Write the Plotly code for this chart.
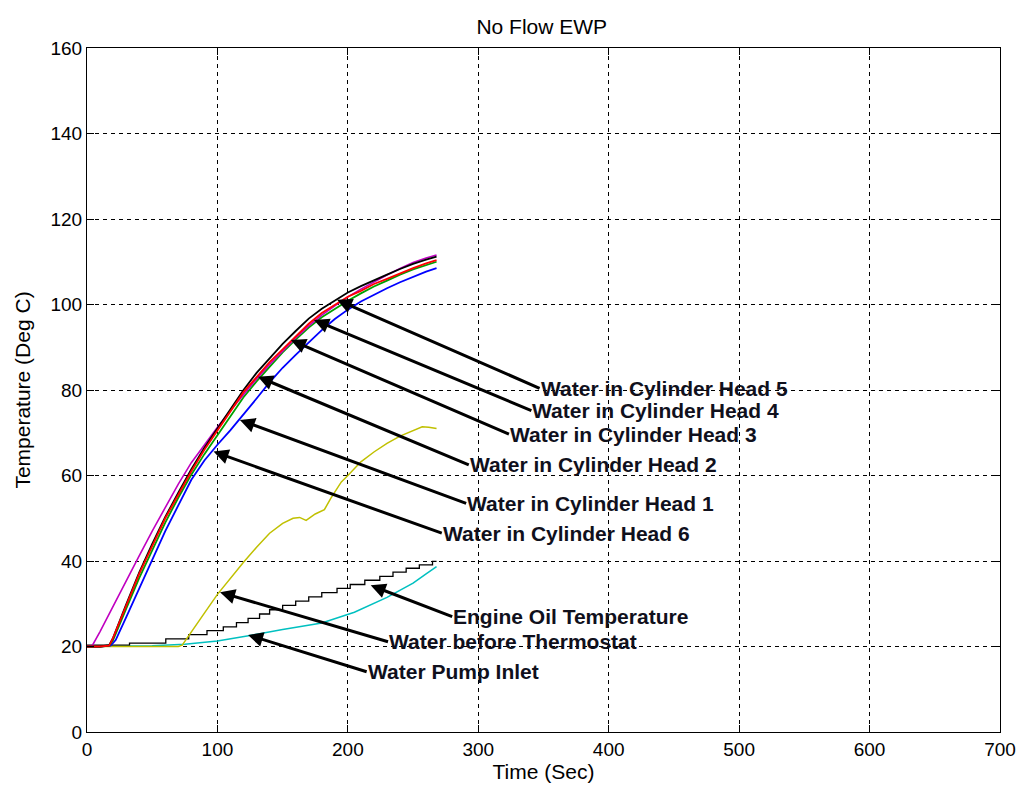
import plotly.graph_objects as go

# ---------------- data ----------------
t_head5 = [0, 4, 10, 20, 30, 40, 50, 60, 70, 80, 90, 100, 110, 120, 130, 140, 150, 160, 170, 180, 190, 200, 210, 220, 230, 240, 250, 260, 268]
v_magenta = [20, 20.2, 23.5, 29.5, 35.5, 41.2, 47, 52.5, 58, 63, 67.3, 71.3, 75.2, 79, 82.6, 86, 89.2, 92.2, 95, 97.5, 99.7, 101.8, 103.6, 105.3, 106.9, 108.4, 109.8, 110.9, 111.6]

t_std = [0, 10, 17, 20, 30, 40, 50, 60, 70, 80, 90, 100, 110, 120, 130, 140, 150, 160, 170, 180, 190, 200, 210, 220, 230, 240, 250, 260, 268]
v_red = [20, 20, 20.2, 22, 29.5, 37, 43.5, 50, 55.5, 61, 66, 70.5, 75, 79.5, 83, 86.5, 89.5, 92.5, 95.5, 98, 100, 101.8, 103.2, 104.8, 106, 107.3, 108.5, 109.6, 110.4]
v_black = [20, 20, 20.3, 22, 29.8, 37.3, 44, 50.3, 56, 61.5, 66.5, 71, 75.5, 80, 84, 87.5, 90.8, 93.8, 96.7, 99, 101, 102.8, 104.3, 105.7, 107, 108.3, 109.5, 110.5, 111.2]
v_green = [20, 20, 20.2, 21.5, 28.8, 36, 42.5, 49, 54.8, 60.2, 65, 69.5, 74, 78.3, 82, 85.5, 88.8, 91.8, 94.6, 97, 99, 100.9, 102.6, 104.2, 105.6, 107, 108.2, 109.3, 110]

t_blue = [0, 10, 18, 22, 30, 40, 50, 60, 70, 80, 90, 100, 110, 120, 130, 140, 150, 160, 170, 180, 190, 200, 210, 220, 230, 240, 250, 260, 268]
v_blue = [20, 20, 20.2, 21.5, 26.8, 33.6, 40.5, 47, 53, 59, 63.5, 67.2, 70.6, 74.2, 78, 81.8, 85.2, 88.2, 91.2, 94, 96.6, 98.8, 100.7, 102.3, 103.8, 105.2, 106.5, 107.7, 108.5]

t_thermo = [0, 70, 73, 80, 90, 100, 110, 120, 130, 140, 150, 158, 163, 168, 175, 182, 187, 195, 200, 210, 220, 230, 240, 250, 257, 262, 268]
v_thermo = [20, 20, 20.3, 23.5, 27.8, 32.2, 36, 39.7, 43.2, 46.5, 48.8, 50, 50.2, 49.5, 51, 52, 54.7, 58.5, 60, 63.2, 65.5, 67.5, 69.2, 70.5, 71.4, 71.3, 71]

t_pump = [0, 50, 75, 100, 125, 150, 180, 205, 230, 250, 260, 268]
v_pump = [20, 20.2, 20.5, 21.3, 22.6, 24, 25.5, 28, 31.5, 34.8, 37, 38.7]

t_oil = [0, 32.6, 60.4, 78, 92, 104.5, 114.6, 123.5, 132.3, 140, 150, 160, 170, 180, 191.7, 201.8, 213, 224.5, 234.6, 244.7, 254.8, 264.9, 268]
v_oil = [20.3, 20.8, 21.8, 22.8, 23.7, 24.6, 25.6, 26.6, 27.6, 28.6, 29.6, 30.6, 31.6, 32.6, 33.6, 34.5, 35.5, 36.4, 37.4, 38.3, 39.1, 39.9, 39.9]

labels = ["Water in Cylinder Head 5", "Water in Cylinder Head 4", "Water in Cylinder Head 3",
          "Water in Cylinder Head 2", "Water in Cylinder Head 1", "Water in Cylinder Head 6",
          "Engine Oil Temperature", "Water before Thermostat", "Water Pump Inlet"]
tip_x = [191.7, 174, 156.3, 131.1, 117.2, 97, 217.5, 102, 123.5]
tip_y = [101.1, 96.4, 91.7, 83.1, 73, 65.6, 34.3, 32.7, 22.7]
tail_x = [347, 340.7, 323.5, 292.7, 290.7, 272, 280, 230.8, 214.4]
tail_y = [80.4, 75.2, 69.7, 62.5, 53.5, 46.5, 27, 21.1, 14.1]

x_ticks = [0, 100, 200, 300, 400, 500, 600, 700]
y_ticks = [0, 20, 40, 60, 80, 100, 120, 140, 160]

FONT = "Arial, Liberation Sans, sans-serif"

# ---------------- figure ----------------
fig = go.Figure()

def add_line(x, y, color, width=1.6, shape="linear"):
    fig.add_trace(go.Scatter(x=x, y=y, mode="lines", line=dict(color=color, width=width, shape=shape),
                             showlegend=False, hoverinfo="skip"))

add_line(t_pump, v_pump, "#00c0c0", 1.5)
add_line(t_oil, v_oil, "#000000", 1.3, "hv")
add_line(t_thermo, v_thermo, "#c0c000", 1.5)
add_line(t_blue, v_blue, "#0000ff", 1.8)
add_line(t_std, v_green, "#00a000", 1.8)
add_line(t_head5, v_magenta, "#c000c0", 1.6)
add_line(t_std, v_black, "#000000", 1.8)
add_line(t_std, v_red, "#ff0000", 1.8)

for lab, x, y, ax, ay in zip(labels, tip_x, tip_y, tail_x, tail_y):
    fig.add_annotation(x=x, y=y, ax=ax, ay=ay, xref="x", yref="y", axref="x", ayref="y",
                       text="<b>" + lab + "</b>", showarrow=True, arrowhead=2, arrowsize=1.0, arrowwidth=3,
                       arrowcolor="black", xanchor="left", yanchor="middle",
                       font=dict(family=FONT, size=21, color="#10101c"),
                       borderpad=0)

axis_common = dict(showline=True, linecolor="black", linewidth=1.2, mirror="allticks",
                   ticks="inside", ticklen=7, tickcolor="black", ticklabeloverflow="allow",
                   showgrid=True, gridcolor="black", gridwidth=1, griddash="4px,4px",
                   zeroline=False, tickfont=dict(family=FONT, size=19, color="black"))

fig.update_xaxes(range=[0, 700], tickvals=x_ticks, ticktext=[str(v) for v in x_ticks],
                 title=dict(text="Time (Sec)", font=dict(family=FONT, size=21, color="black"), standoff=3),
                 **axis_common)
fig.update_yaxes(range=[0, 160], tickvals=y_ticks, ticktext=[str(v) for v in y_ticks],
                 title=dict(text="Temperature (Deg C)", font=dict(family=FONT, size=21, color="black"), standoff=14),
                 **axis_common)

fig.update_layout(
    width=1028, height=792,
    margin=dict(l=87, r=17, t=48, b=60),
    paper_bgcolor="white", plot_bgcolor="white",
    title=dict(text="No Flow EWP", x=0.527, xanchor="center", y=0.966, yanchor="middle",
               font=dict(family=FONT, size=21, color="black")),
)

fig.write_html("out.html")
